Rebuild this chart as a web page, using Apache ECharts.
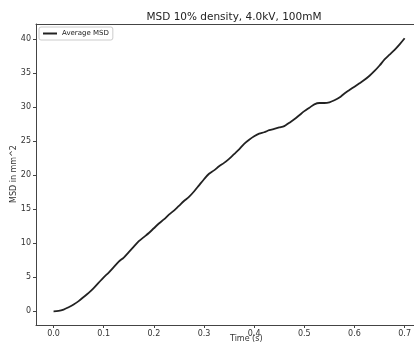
<!DOCTYPE html>
<html>
<head>
<meta charset="utf-8">
<script src="https://cdn.jsdelivr.net/npm/echarts@6/dist/echarts.min.js"></script>
<style>html,body{margin:0;padding:0;background:#fff;}#c{width:414px;height:344px;}</style>
</head>
<body>
<div id="c"></div>
<script>
const times = [0.00,0.01,0.02,0.03,0.04,0.05,0.06,0.07,0.08,0.09,0.10,0.11,0.12,0.13,0.14,0.15,0.16,0.17,0.18,0.19,0.20,0.21,0.22,0.23,0.24,0.25,0.26,0.27,0.28,0.29,0.30,0.31,0.32,0.33,0.34,0.35,0.36,0.37,0.38,0.39,0.40,0.41,0.42,0.43,0.44,0.45,0.46,0.47,0.48,0.49,0.50,0.51,0.52,0.53,0.54,0.55,0.56,0.57,0.58,0.59,0.60,0.61,0.62,0.63,0.64,0.65,0.66,0.67,0.68,0.69,0.70];
const msd = [0.0,0.05,0.25,0.6,1.0,1.5,2.1,2.7,3.4,4.2,5.0,5.7,6.5,7.3,7.9,8.7,9.5,10.3,10.9,11.5,12.2,12.9,13.5,14.2,14.8,15.5,16.2,16.8,17.6,18.5,19.4,20.2,20.7,21.3,21.8,22.4,23.1,23.8,24.6,25.2,25.7,26.1,26.3,26.6,26.8,27.0,27.2,27.7,28.2,28.8,29.4,29.9,30.4,30.6,30.6,30.7,31.0,31.4,32.0,32.5,33.0,33.5,34.0,34.6,35.3,36.1,37.0,37.7,38.4,39.2,40.1];
const xTicks = [0,0.1,0.2,0.3,0.4,0.5,0.6,0.7];
const yTicks = [0,5,10,15,20,25,30,35,40];
const seriesName = 'Average MSD';
const titleText = 'MSD 10% density, 4.0kV, 100mM';
const xLabel = 'Time (s)';
const yLabel = 'MSD in mm^2';

const chart = echarts.init(document.getElementById('c'), null, {renderer:'canvas'});
const font = 'DejaVu Sans';
const axisCol = '#444';
chart.setOption({
  animation:false,
  backgroundColor:'#fff',
  title:{text:titleText, left:229, top:7, textAlign:'center',
    textStyle:{fontFamily:font, fontSize:10.5, fontWeight:'normal', color:'#222'}},
  legend:{data:[seriesName], left:39, top:27, orient:'vertical',
    borderColor:'#ccc', borderWidth:1, borderRadius:2, padding:[3,4,3,4],
    itemWidth:14, itemHeight:2, itemGap:4, icon:'rect',
    textStyle:{fontFamily:font, fontSize:7, color:'#222', padding:[0,0,0,0]}},
  grid:{left:36, right:0, top:24, bottom:19, containLabel:false},
  xAxis:[{type:'value', min:-0.035, max:0.718, position:'bottom',
    axisLine:{show:true, onZero:false, lineStyle:{color:axisCol, width:1}},
    axisTick:{show:true, length:3, lineStyle:{color:axisCol}, customValues:xTicks},
    axisLabel:{fontFamily:font, fontSize:8, color:'#333', margin:5, customValues:xTicks,
      formatter:v=>v.toFixed(1)},
    splitLine:{show:false}},
    {type:'value', min:-0.035, max:0.718, position:'top',
    axisLine:{show:true, onZero:false, lineStyle:{color:axisCol, width:1}},
    axisTick:{show:false}, axisLabel:{show:false}, splitLine:{show:false}}],
  yAxis:{type:'value', min:-2.01, max:42.2, position:'left',
    axisLine:{show:true, onZero:false, lineStyle:{color:axisCol, width:1}},
    axisTick:{show:true, length:3, lineStyle:{color:axisCol}, customValues:yTicks},
    axisLabel:{fontFamily:font, fontSize:8, color:'#333', margin:5, customValues:yTicks},
    splitLine:{show:false}},
  graphic:[
    {type:'text', left:230, top:335, style:{text:xLabel, fontFamily:font, fontSize:8, fill:'#333', textAlign:'center'}},
    {type:'text', x:14, y:174, rotation:Math.PI/2, style:{text:yLabel, fontFamily:font, fontSize:8, fill:'#333', align:'center', verticalAlign:'middle'}}
  ],
  series:[{name:seriesName, type:'line', xAxisIndex:0, data:times.map((t,i)=>[t,msd[i]]),
    showSymbol:false, smooth:0.3, lineStyle:{color:'#222', width:1.8}, itemStyle:{color:'#222'}}]
});
</script>
</body>
</html>
